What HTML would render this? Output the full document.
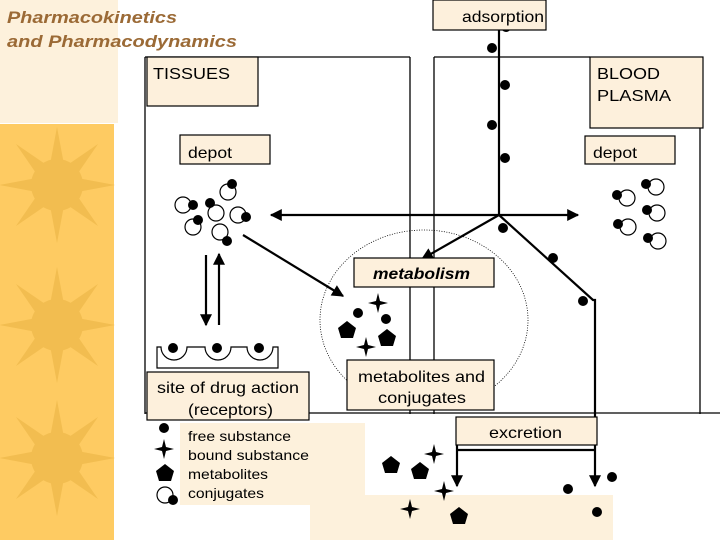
<!DOCTYPE html>
<html><head><meta charset="utf-8"><style>
html,body{margin:0;padding:0;background:#fff;}
svg{display:block;}
text{font-family:"Liberation Sans",sans-serif;}
</style></head><body>
<svg width="720" height="540" viewBox="0 0 720 540" xmlns="http://www.w3.org/2000/svg">
<defs>
<g id="sun">
<circle r="26" fill="#f2bd50"/>
<g fill="#f2bd50">
<polygon points="-8,-15 8,-15 0,-58"/>
<polygon points="-8,-15 8,-15 0,-58" transform="rotate(45)"/>
<polygon points="-8,-15 8,-15 0,-58" transform="rotate(90)"/>
<polygon points="-8,-15 8,-15 0,-58" transform="rotate(135)"/>
<polygon points="-8,-15 8,-15 0,-58" transform="rotate(180)"/>
<polygon points="-8,-15 8,-15 0,-58" transform="rotate(225)"/>
<polygon points="-8,-15 8,-15 0,-58" transform="rotate(270)"/>
<polygon points="-8,-15 8,-15 0,-58" transform="rotate(315)"/>
</g>
</g>
<g id="conjR"><circle cx="0" cy="0" r="8" fill="#fff" stroke="#000" stroke-width="1.2"/><circle cx="-10" cy="-3" r="5" fill="#000"/></g>
<g id="star"><polygon points="0,-10 2,-2 10,0 2,2 0,10 -2,2 -10,0 -2,-2" fill="#000"/></g>
<g id="pent"><polygon points="0,-9 9,-2 6,8 -6,8 -9,-2" fill="#000"/></g>
<marker id="ah2" viewBox="0 0 10 10" refX="9" refY="5" markerWidth="14" markerHeight="12" markerUnits="userSpaceOnUse" orient="auto"><path d="M0,0 L10,5 L0,10 z" fill="#000"/></marker>
</defs>

<rect x="0" y="0" width="118" height="123" fill="#fdf1dc"/>
<rect x="0" y="124" width="114" height="416" fill="#fecb62"/>
<use href="#sun" x="57" y="185"/>
<use href="#sun" x="57" y="325"/>
<use href="#sun" x="57" y="458"/>

<text x="7" y="23" font-size="17" font-weight="bold" font-style="italic" fill="#9b6a36" textLength="170" lengthAdjust="spacingAndGlyphs">Pharmacokinetics</text>
<text x="7" y="47" font-size="17" font-weight="bold" font-style="italic" fill="#9b6a36" textLength="230" lengthAdjust="spacingAndGlyphs">and Pharmacodynamics</text>

<rect x="180" y="423" width="185" height="82" fill="#fdf1dc"/>
<rect x="310" y="495" width="303" height="45" fill="#fdf1dc"/>

<g stroke="#000" stroke-width="1.3" fill="none">
<line x1="145" y1="57" x2="145" y2="414"/>
<line x1="145" y1="57" x2="410" y2="57"/>
<line x1="410" y1="57" x2="410" y2="414"/>
<line x1="434" y1="57" x2="434" y2="414"/>
<line x1="434" y1="57" x2="590" y2="57"/>
<line x1="700" y1="128" x2="700" y2="414"/>
<line x1="145" y1="413" x2="720" y2="413"/>
</g>
<ellipse cx="424" cy="320" rx="104" ry="90" fill="none" stroke="#000" stroke-width="0.8" stroke-dasharray="1,1.5"/>

<g stroke="#000" stroke-width="2.2" fill="none">
<line x1="499" y1="30" x2="499" y2="215"/>
<line x1="499" y1="215" x2="578" y2="215" marker-end="url(#ah2)"/>
<line x1="499" y1="215" x2="271" y2="215" marker-end="url(#ah2)"/>
<line x1="499" y1="215" x2="422" y2="259" marker-end="url(#ah2)"/>
<polyline points="499,215 593,300 595,300 595,486" marker-end="url(#ah2)"/>
<line x1="243" y1="235" x2="343" y2="296" marker-end="url(#ah2)"/>
<line x1="206" y1="255" x2="206" y2="325" marker-end="url(#ah2)"/>
<line x1="219" y1="325" x2="219" y2="254" marker-end="url(#ah2)"/>
<line x1="457" y1="445" x2="457" y2="486" marker-end="url(#ah2)"/>
<line x1="457" y1="450" x2="595" y2="450"/>
</g>

<g fill="#000">
<circle cx="506" cy="27" r="5"/>
<circle cx="492" cy="48" r="5"/>
<circle cx="505" cy="85" r="5"/>
<circle cx="492" cy="125" r="5"/>
<circle cx="505" cy="158" r="5"/>
<circle cx="503" cy="228" r="5"/>
<circle cx="553" cy="258" r="5"/>
<circle cx="583" cy="301" r="5"/>
<circle cx="358" cy="313" r="5"/>
<circle cx="386" cy="319" r="5"/>
<circle cx="568" cy="489" r="5"/>
<circle cx="612" cy="477" r="5"/>
<circle cx="597" cy="512" r="5"/>
</g>

<g>
<circle cx="228" cy="192" r="8" fill="#fff" stroke="#000" stroke-width="1.2"/><circle cx="232" cy="184" r="5"/>
<circle cx="183" cy="205" r="8" fill="#fff" stroke="#000" stroke-width="1.2"/><circle cx="193" cy="205" r="5"/>
<circle cx="216" cy="213" r="8" fill="#fff" stroke="#000" stroke-width="1.2"/><circle cx="210" cy="203" r="5"/>
<circle cx="238" cy="215" r="8" fill="#fff" stroke="#000" stroke-width="1.2"/><circle cx="246" cy="217" r="5"/>
<circle cx="193" cy="227" r="8" fill="#fff" stroke="#000" stroke-width="1.2"/><circle cx="198" cy="220" r="5"/>
<circle cx="220" cy="232" r="8" fill="#fff" stroke="#000" stroke-width="1.2"/><circle cx="227" cy="241" r="5"/>
</g>
<use href="#conjR" x="656" y="187"/>
<use href="#conjR" x="627" y="198"/>
<use href="#conjR" x="657" y="213"/>
<use href="#conjR" x="628" y="227"/>
<use href="#conjR" x="658" y="241"/>

<use href="#star" x="378" y="303"/>
<use href="#pent" x="347" y="330"/>
<use href="#pent" x="387" y="338"/>
<use href="#star" x="366" y="347"/>
<use href="#pent" x="391" y="465"/>
<use href="#pent" x="420" y="471"/>
<use href="#star" x="434" y="454"/>
<use href="#star" x="444" y="491"/>
<use href="#star" x="410" y="509"/>
<use href="#pent" x="459" y="516"/>

<path d="M157,347 V368 H278 V347 H273 A13,13 0 0 1 247,347 H231 A13,13 0 0 1 205,347 H187 A13,13 0 0 1 161,347 Z" fill="#fff" stroke="#000" stroke-width="1.2"/>
<circle cx="173" cy="348" r="5"/><circle cx="217" cy="348" r="5"/><circle cx="259" cy="348" r="5"/>

<g fill="#fdf0dc" stroke="#000" stroke-width="1.2">
<rect x="147" y="57" width="111" height="49"/>
<rect x="180" y="135" width="90" height="29"/>
<rect x="433" y="0" width="113" height="30"/>
<rect x="590" y="57" width="113" height="71"/>
<rect x="585" y="136" width="90" height="28"/>
<rect x="354" y="258" width="140" height="29"/>
<rect x="347" y="360" width="147" height="50"/>
<rect x="456" y="417" width="141" height="28"/>
<rect x="147" y="372" width="162" height="48"/>
</g>
<g font-size="16" fill="#000">
<text x="153" y="79" textLength="77" lengthAdjust="spacingAndGlyphs">TISSUES</text>
<text x="188" y="158" textLength="44" lengthAdjust="spacingAndGlyphs">depot</text>
<text x="462" y="22" textLength="82" lengthAdjust="spacingAndGlyphs">adsorption</text>
<text x="597" y="79" textLength="63" lengthAdjust="spacingAndGlyphs">BLOOD</text>
<text x="597" y="101" textLength="74" lengthAdjust="spacingAndGlyphs">PLASMA</text>
<text x="593" y="158" textLength="44" lengthAdjust="spacingAndGlyphs">depot</text>
<text x="373" y="279" font-weight="bold" font-style="italic" textLength="97" lengthAdjust="spacingAndGlyphs">metabolism</text>
<text x="358" y="382" textLength="127" lengthAdjust="spacingAndGlyphs">metabolites and</text>
<text x="378" y="403" textLength="88" lengthAdjust="spacingAndGlyphs">conjugates</text>
<text x="489" y="438" textLength="73" lengthAdjust="spacingAndGlyphs">excretion</text>
<text x="157" y="393" textLength="142" lengthAdjust="spacingAndGlyphs">site of drug action</text>
<text x="188" y="415" textLength="85" lengthAdjust="spacingAndGlyphs">(receptors)</text>
</g>

<circle cx="164" cy="428" r="5"/>
<use href="#star" x="164" y="449"/>
<use href="#pent" x="165" y="473"/>
<circle cx="165" cy="495" r="8" fill="#fff" stroke="#000" stroke-width="1.2"/><circle cx="173" cy="500" r="5"/>
<g font-size="14" fill="#000">
<text x="188" y="441" textLength="103" lengthAdjust="spacingAndGlyphs">free substance</text>
<text x="188" y="460" textLength="121" lengthAdjust="spacingAndGlyphs">bound substance</text>
<text x="188" y="479" textLength="80" lengthAdjust="spacingAndGlyphs">metabolites</text>
<text x="188" y="498" textLength="76" lengthAdjust="spacingAndGlyphs">conjugates</text>
</g>
</svg>
</body></html>
